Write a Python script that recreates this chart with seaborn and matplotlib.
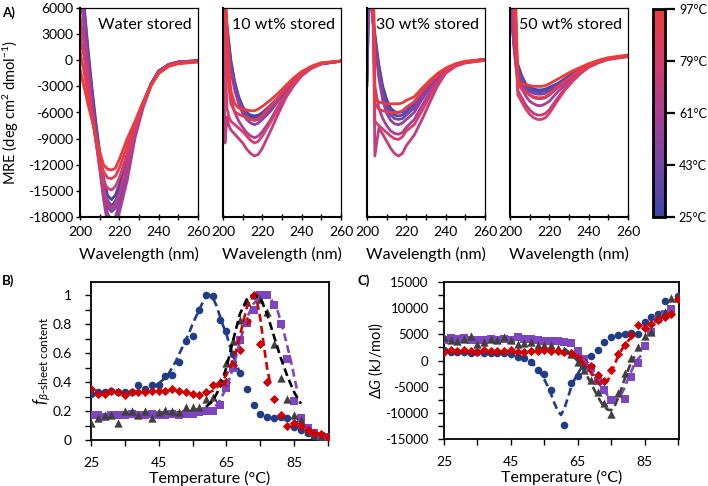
"""
CD spectra (A), beta-sheet fraction (B) and free energy (C) vs temperature.
"""

import numpy as np
import pandas as pd
import matplotlib
matplotlib.use("Agg")
import matplotlib.pyplot as plt
import seaborn as sns
from matplotlib.colors import LinearSegmentedColormap, Normalize

# ---- panel A: CD spectra (MRE vs wavelength), one row per temperature ----
wavelengths = [200, 201, 202, 203, 204, 206, 208, 210, 212, 214, 216, 218, 220, 224, 228, 232, 236, 240, 245, 250, 260]
spectra_temps = [25, 34, 43, 52, 61, 70, 79, 88, 97]

water_mre = [
    [12000, 9000, 6500, 4000, 1500, -3000, -7000, -10500, -13500, -15500, -16000, -15500, -14300, -11000, -8000, -5000, -2700, -1200, -500, -200, -50],
    [11000, 8500, 6000, 3500, 1000, -3500, -7500, -11000, -14000, -16100, -16700, -16200, -15000, -11500, -8200, -5100, -2800, -1300, -500, -200, -50],
    [10000, 8000, 5500, 3000, 500, -4000, -8000, -11500, -14600, -16800, -17400, -17000, -15700, -12000, -8400, -5200, -2800, -1300, -500, -200, -50],
    [9000, 7000, 5000, 2500, 0, -4500, -8500, -12000, -15300, -17600, -18400, -18000, -16600, -12700, -8600, -5300, -2900, -1300, -500, -200, -80],
    [8000, 6000, 4000, 1500, -700, -5000, -9000, -12500, -16000, -18800, -19500, -19000, -17500, -13800, -8900, -5500, -3000, -1400, -500, -200, -100],
    [5000, 3500, 2000, 0, -1800, -5800, -9100, -12200, -14800, -16500, -17000, -16600, -15300, -12000, -8300, -5200, -2900, -1400, -600, -250, -100],
    [3000, 1500, 500, -1000, -2800, -6100, -9200, -11800, -13900, -14700, -14900, -14500, -13500, -10700, -7700, -5000, -2900, -1400, -600, -300, -150],
    [1000, -200, -1200, -2500, -3800, -6500, -8900, -11300, -12800, -13500, -13600, -13300, -12400, -9800, -7300, -4900, -2900, -1500, -700, -350, -150],
    [-1000, -2000, -3000, -4000, -5000, -6800, -8600, -10500, -12000, -12500, -12600, -12400, -11400, -9000, -7000, -4800, -2900, -1500, -700, -400, -200],
]

wt10_mre = [
    [9000, 6500, 4000, 2000, 0, -2500, -4200, -5300, -6000, -6300, -6400, -6300, -6000, -5200, -4300, -3300, -2300, -1500, -800, -400, -100],
    [9000, 6500, 3800, 1700, -300, -2800, -4400, -5500, -6200, -6500, -6600, -6500, -6200, -5400, -4400, -3400, -2400, -1500, -800, -400, -100],
    [8500, 6000, 3500, 1300, -600, -3000, -4600, -5700, -6400, -6800, -6900, -6800, -6400, -5600, -4500, -3500, -2400, -1600, -800, -400, -100],
    [8000, 5500, 3000, 800, -1200, -3500, -5000, -6100, -6800, -7200, -7400, -7200, -6800, -5900, -4700, -3600, -2500, -1600, -800, -400, -100],
    [7000, 4000, 1000, -2500, -4500, -6000, -7000, -7700, -8300, -8700, -8900, -8700, -8200, -6900, -5300, -3900, -2700, -1700, -900, -400, -100],
    [5000, -9500, -6500, -7500, -8000, -8500, -9000, -9500, -10200, -10700, -11000, -10800, -10100, -8200, -6200, -4300, -2900, -1800, -900, -400, -100],
    [8000, 2000, -5500, -6500, -7000, -7400, -7800, -8200, -8700, -9200, -9500, -9300, -8700, -7200, -5600, -4000, -2700, -1700, -900, -400, -100],
    [12000, 6000, 1000, -3000, -5000, -5900, -6200, -6400, -6600, -6800, -6900, -6700, -6300, -5300, -4300, -3200, -2200, -1400, -700, -300, -100],
    [15000, 9000, 4000, -1000, -3500, -5000, -5500, -5600, -5700, -5800, -5800, -5600, -5300, -4600, -3800, -2900, -2000, -1300, -700, -300, -100],
]

wt30_mre = [
    [-3000, 9000, 7000, 5000, 3000, -500, -3000, -4500, -5500, -5900, -6000, -5900, -5500, -4800, -3600, -2600, -1700, -1000, -500, -200, 100],
    [-2500, 9000, 7000, 4800, 2700, -800, -3400, -5000, -5900, -6300, -6400, -6300, -5900, -5100, -3800, -2700, -1800, -1000, -500, -200, 100],
    [-2000, 9000, 7000, 4500, 2400, -1200, -3800, -5400, -6300, -6700, -6800, -6700, -6300, -5500, -4100, -2900, -1900, -1100, -500, -200, 100],
    [2000, 10000, 7500, 4500, 2000, -2000, -4600, -6100, -6900, -7300, -7400, -7200, -6800, -6000, -4500, -3200, -2100, -1200, -500, -200, 100],
    [8000, 12000, 8000, 5000, -3000, -5500, -6700, -7500, -8100, -8400, -8500, -8300, -7700, -6800, -5200, -3700, -2400, -1300, -600, -200, 50],
    [15000, 14000, 12000, 10000, -11000, -7800, -8500, -9300, -10100, -10700, -11000, -10700, -9800, -8600, -6800, -4800, -2900, -1500, -700, -300, 0],
    [18000, 16000, 14000, 12000, -7000, -7500, -7900, -8300, -8700, -9000, -9100, -8800, -8100, -7400, -5800, -4100, -2600, -1400, -600, -300, 0],
    [20000, 18000, 16000, 13000, -5000, -5600, -5800, -5900, -6000, -6000, -6000, -5800, -5400, -4800, -3600, -2600, -1700, -1000, -500, -200, 100],
    [22000, 20000, 18000, 14000, -4300, -4800, -4900, -5000, -5000, -5000, -5000, -4900, -4600, -4200, -3200, -2300, -1500, -900, -400, -100, 100],
]

wt50_mre = [
    [7000, 4500, 2500, 500, -500, -1800, -2700, -3100, -3300, -3400, -3400, -3300, -3100, -2700, -2100, -1500, -1000, -500, -100, 200, 500],
    [7000, 4500, 2300, 300, -700, -2000, -2900, -3300, -3500, -3600, -3600, -3500, -3300, -2800, -2200, -1600, -1000, -600, -100, 200, 500],
    [7500, 4500, 2000, 0, -1000, -2300, -3100, -3600, -3800, -3900, -3900, -3800, -3500, -2900, -2300, -1700, -1100, -600, -100, 200, 500],
    [8000, 4500, 1800, -300, -1400, -2700, -3500, -4000, -4300, -4400, -4400, -4300, -4000, -3200, -2500, -1800, -1200, -700, -200, 200, 500],
    [9000, 5000, 1500, -800, -2200, -3300, -4100, -4700, -5000, -5200, -5200, -5000, -4700, -3700, -2800, -2000, -1300, -700, -200, 150, 500],
    [12000, 8000, 4000, 500, -3500, -4300, -5100, -5700, -6100, -6300, -6300, -6100, -5700, -4400, -3200, -2200, -1400, -800, -200, 100, 500],
    [15000, 11000, 7000, 2000, -4000, -4800, -5600, -6200, -6600, -6800, -6800, -6600, -6100, -4700, -3400, -2400, -1500, -800, -300, 100, 400],
    [18000, 14000, 10000, 4000, -2800, -3300, -3700, -4000, -4200, -4300, -4300, -4200, -3900, -3100, -2400, -1700, -1100, -600, -100, 200, 500],
    [20000, 16000, 12000, 6000, -2600, -2700, -2800, -2900, -3000, -3000, -3000, -2900, -2700, -2200, -1700, -1200, -800, -400, 0, 300, 600],
]

panel_titles = ["Water stored", "10 wt% stored", "30 wt% stored", "50 wt% stored"]
cbar_ticks = [25, 43, 61, 79, 97]

# ---- panels B and C: measured points, 2 degC steps ----
temps = list(range(25, 97, 2))
nan = np.nan

fb_water = [0.32, 0.33, 0.33, 0.34, 0.33, 0.33, 0.33, 0.38, 0.35, 0.38, 0.38, 0.44, 0.45, 0.54, 0.68, 0.72, 0.90, 1.0,
            0.99, 0.83, 0.75, 0.59, 0.46, 0.35, 0.24, 0.18, 0.16, 0.155, 0.16, 0.15, 0.09, 0.07, 0.05, 0.03, 0.01, 0.0]
fb_10 = [0.35, 0.32, 0.32, 0.34, 0.33, 0.31, 0.33, 0.33, 0.33, 0.34, 0.34, 0.34, 0.35, 0.34, 0.33, 0.32, 0.31, 0.33,
         0.38, 0.39, 0.40, 0.52, 0.62, 0.82, 1.0, 0.66, 0.40, 0.28, 0.17, 0.10, 0.12, 0.10, 0.07, 0.05, 0.04, 0.02]
fb_30 = [0.12, 0.15, 0.17, 0.17, 0.12, 0.20, 0.20, 0.17, 0.20, 0.15, 0.19, 0.21, 0.20, 0.19, 0.23, 0.23, 0.23, 0.28,
         0.30, 0.41, 0.53, 0.68, 0.83, 0.95, 1.0, 0.97, 0.88, 0.66, 0.43, 0.28, 0.17, 0.14, 0.06, 0.04, 0.02, 0.0]
fb_50 = [0.17, 0.17, 0.16, 0.17, 0.17, 0.17, 0.18, 0.17, 0.17, 0.18, 0.17, 0.17, 0.18, 0.17, 0.18, 0.18, 0.19, 0.20,
         0.20, 0.24, 0.36, 0.50, 0.69, 0.81, 0.90, 1.0, 1.0, 0.93, 0.80, 0.56, 0.27, 0.15, 0.08, 0.05, 0.03, 0.02]

dg_water = [2100, 1700, 1600, 1700, 1500, 1600, 1500, 1400, 1500, 1400, 1300, 700, 500, -200, -1900, -2500, -5700, nan,
            -12400, -4300, -2900, -1000, 800, 2100, 3500, 4500, 4900, 5100, 5300, 5000, 7400, 8400, 8800, 11300, nan, 12400]
dg_10 = [1600, 2000, 1900, 2000, 1800, 1700, 2100, 1800, 1900, 1800, 2000, 1700, 1700, 1800, 1900, 2000, 1900, 1900,
         1700, 1500, 700, -200, -1100, -2800, -4000, -1800, 1200, 3000, 4800, 6700, 6200, 7000, 7800, 8300, 8900, 11700]
dg_30 = [4500, 4000, 3800, 4200, 4700, 3200, 3600, 4100, 3900, 4400, 3900, 3200, 3300, 3600, 3000, 3000, 3000, 2300,
         2100, 1300, -300, -1800, -3700, -6000, -8200, -10300, -6200, -2400, 400, 2600, 4600, 5500, 8700, 9300, 11900, 11900]
dg_50 = [3900, 4300, 4200, 4300, 4000, 4000, 3900, 4200, 4000, 4100, 4000, 4500, 4100, 4100, 3900, 3700, 3800, 3700,
         3600, 3300, 1800, 200, -1500, -4000, -5700, -7500, nan, -7400, -3200, -400, 2800, 5400, 8000, 8800, 9800, nan]

# ---- fitted curves (dashed) ----
fit_b_water_t = [45, 46, 47, 48, 49, 50, 51, 52, 53, 54, 55, 56, 57, 58, 59, 60, 61, 62, 63, 64, 65, 66, 67, 68, 69]
fit_b_water = [0.39, 0.41, 0.43, 0.46, 0.50, 0.54, 0.59, 0.64, 0.69, 0.74, 0.80, 0.85, 0.90, 0.95, 0.99, 1.0, 0.98,
               0.93, 0.86, 0.79, 0.73, 0.65, 0.58, 0.52, 0.46]
fit_b_10_t = [59, 61, 63, 65, 66, 67, 68, 69, 70, 71, 72, 73, 74, 75, 76, 77, 78]
fit_b_10 = [0.32, 0.34, 0.38, 0.45, 0.50, 0.56, 0.63, 0.72, 0.82, 0.91, 0.98, 1.0, 0.96, 0.84, 0.66, 0.50, 0.38]
fit_b_30_t = [59, 61, 63, 65, 67, 69, 71, 73, 75, 77, 79, 81, 83, 85, 87]
fit_b_30 = [0.23, 0.27, 0.36, 0.50, 0.69, 0.87, 0.97, 1.0, 0.98, 0.87, 0.72, 0.57, 0.44, 0.33, 0.25]
fit_b_50_t = [59, 61, 63, 65, 67, 69, 71, 73, 75, 76, 77, 78, 80, 82, 84, 86]
fit_b_50 = [0.18, 0.21, 0.27, 0.36, 0.50, 0.68, 0.84, 0.94, 0.99, 1.0, 1.0, 0.98, 0.90, 0.74, 0.55, 0.33]

fit_c_water_t = [47, 49, 51, 53, 55, 56, 57, 58, 59, 60, 61, 62, 63, 64, 65, 66, 67]
fit_c_water = [800, 400, -300, -1500, -3600, -4900, -6400, -8100, -9600, -10400, -9200, -7200, -5200, -3700, -2500, -1500, -700]
fit_c_10_t = [63, 65, 67, 69, 70, 71, 72, 73, 74, 75, 76, 77, 78, 79, 80, 81]
fit_c_10 = [1500, 700, -700, -2400, -3400, -4200, -4700, -4600, -3800, -2400, -800, 700, 1900, 2900, 3700, 4400]
fit_c_30_t = [61, 63, 65, 67, 69, 71, 72, 73, 74, 75, 76, 77, 78, 79, 80, 81, 82]
fit_c_30 = [2300, 1200, -100, -2000, -4400, -6900, -8000, -8900, -9400, -9500, -8800, -7300, -5500, -3600, -1900, -400, 800]
fit_c_50_t = [62, 64, 66, 68, 70, 72, 74, 75, 76, 77, 78, 79, 80, 81, 82, 83, 84]
fit_c_50 = [3800, 2700, 1000, -1000, -3000, -5000, -6700, -7300, -7500, -7300, -6500, -5200, -3600, -2100, -700, 300, 1000]

# series styles
series_colors = ["#203d85", "#d00000", "#404040", "#7e45c0"]
series_markers = ["o", "D", "^", "s"]
series_sizes = [30, 22, 36, 26]

sns.set_theme(style="white", rc={
    "axes.edgecolor": "black", "text.color": "black", "axes.labelcolor": "black",
    "xtick.color": "black", "ytick.color": "black",
})
plt.rcParams["font.family"] = ["Lato", "DejaVu Sans"]
plt.rcParams["mathtext.fontset"] = "custom"
plt.rcParams["mathtext.rm"] = "Lato"
plt.rcParams["mathtext.it"] = "Lato:italic"
plt.rcParams["axes.unicode_minus"] = False

W, H = 708, 486
fig = plt.figure(figsize=(W / 100, H / 100), dpi=100)


def add_ax(x0, y0, x1, y1):
    return fig.add_axes([x0 / W, 1 - y1 / H, (x1 - x0) / W, (y1 - y0) / H])


cmap = LinearSegmentedColormap.from_list("temp", ["#3c46aa", "#7546a6", "#aa3e92", "#d63d6c", "#ec3b3b"])
norm = Normalize(25, 97)

# ---- panel A ----
panel_x = [80, 223, 367, 510]
all_mre = [water_mre, wt10_mre, wt30_mre, wt50_mre]
for i, (x0, mre, title) in enumerate(zip(panel_x, all_mre, panel_titles)):
    ax = add_ax(x0, 8, x0 + 118, 217)
    df = pd.DataFrame(mre, index=spectra_temps, columns=wavelengths).stack().reset_index()
    df.columns = ["temp", "wl", "mre"]
    sns.lineplot(data=df, x="wl", y="mre", hue="temp", units="temp", estimator=None,
                 palette=cmap, hue_norm=norm, lw=2.0, legend=False, ax=ax)
    ax.set_xlim(200, 260)
    ax.set_ylim(-18000, 6000)
    ax.set_xticks([200, 220, 240, 260])
    ax.set_xticks([210, 230, 250], minor=True)
    ax.tick_params(axis="x", which="both", bottom=True, direction="inout", length=5, width=1, labelsize=10, pad=4)
    ax.set_xlabel("Wavelength (nm)", fontsize=11.5)
    ax.xaxis.set_label_coords(0.5, -0.145)
    if i == 0:
        ax.set_yticks(range(-18000, 6001, 3000))
        ax.tick_params(axis="y", left=True, direction="out", length=3, width=1, labelsize=10, pad=2)
        ax.set_ylabel("MRE (deg cm$^2$ dmol$^{-1}$)", fontsize=10.5)
        ax.yaxis.set_label_coords(-0.50, 0.5)
    else:
        ax.set_yticks([])
        ax.set_ylabel("")
    for side in ["left", "bottom"]:
        ax.spines[side].set_linewidth(1.5)
    for side in ["top", "right"]:
        ax.spines[side].set_linewidth(0.9)
    ax.text(0.95, 0.92, title, transform=ax.transAxes, ha="right", va="center", fontsize=11.5)

cax = add_ax(653, 9, 665, 217)
sm = plt.cm.ScalarMappable(norm=norm, cmap=cmap)
cb = fig.colorbar(sm, cax=cax, ticks=cbar_ticks)
cb.ax.set_yticklabels([f"{t}°C" for t in cbar_ticks])
cb.outline.set_linewidth(2.0)
cb.ax.tick_params(right=True, length=7, width=1.6, labelsize=9, pad=3)

# ---- panels B and C ----
b_series = [fb_water, fb_10, fb_30, fb_50]
c_series = [dg_water, dg_10, dg_30, dg_50]
b_fits = [(fit_b_water_t, fit_b_water), (fit_b_10_t, fit_b_10), (fit_b_30_t, fit_b_30), (fit_b_50_t, fit_b_50)]
c_fits = [(fit_c_water_t, fit_c_water), (fit_c_10_t, fit_c_10), (fit_c_30_t, fit_c_30), (fit_c_50_t, fit_c_50)]
fit_colors_b = ["#203d85", "#d00000", "#000000", "#7e45c0"]
fit_colors_c = ["#203d85", "#d00000", "#404040", "#7e45c0"]
draw_order = [0, 3, 2, 1]

axB = add_ax(91, 282, 329, 440)
axC = add_ax(444, 282, 679, 439)
for ax, series, fits, fit_colors in [(axB, b_series, b_fits, fit_colors_b), (axC, c_series, c_fits, fit_colors_c)]:
    for k in draw_order:
        sns.scatterplot(x=temps, y=series[k], marker=series_markers[k], s=series_sizes[k],
                        color=series_colors[k], linewidth=0, ax=ax, zorder=3)
    for k in draw_order:
        fx, fy = fits[k]
        sns.lineplot(x=fx, y=fy, color=fit_colors[k], lw=1.9, linestyle=(0, (3, 1.6)), ax=ax, zorder=4)
    ax.set_xlim(25, 95.3)
    ax.set_xticks([25, 45, 65, 85])
    ax.set_xticks([35, 55, 75, 95], minor=True)
    ax.tick_params(axis="both", which="both", bottom=True, left=True, direction="out", length=4, width=1, labelsize=10)
    ax.tick_params(axis="x", which="both", pad=8)
    ax.set_xlabel("Temperature (°C)", fontsize=11.5)
    ax.xaxis.set_label_coords(0.5, -0.195)
    for side in ax.spines:
        ax.spines[side].set_linewidth(1.3)

axB.set_ylim(0, 1.09)
axB.set_yticks([0, 0.2, 0.4, 0.6, 0.8, 1.0])
axB.set_yticklabels(["0", "0.2", "0.4", "0.6", "0.8", "1"])
axB.set_yticks(np.arange(0.1, 1.05, 0.2), minor=True)
axB.tick_params(axis="y", which="both", pad=10)
axB.set_ylabel(r"$f_{\beta\text{-sheet content}}$", fontsize=12)
axB.yaxis.set_label_coords(-0.16, 0.5)

axC.set_ylim(-15000, 15000)
axC.set_yticks(range(-15000, 15001, 5000))
axC.set_yticks(range(-12500, 15000, 5000), minor=True)
axC.tick_params(axis="y", which="both", labelsize=9.5, pad=7)
axC.set_ylabel(r"$\mathit{\Delta G}$ (kJ/mol)", fontsize=10.5)
axC.yaxis.set_label_coords(-0.25, 0.5)

fig.text(2 / W, 1 - 13 / H, "A)", fontsize=9.5, weight="bold", va="center")
fig.text(2 / W, 1 - 281 / H, "B)", fontsize=9.5, weight="bold", va="center")
fig.text(357 / W, 1 - 281 / H, "C)", fontsize=9.5, weight="bold", va="center")

fig.savefig("out.png", dpi=100)
